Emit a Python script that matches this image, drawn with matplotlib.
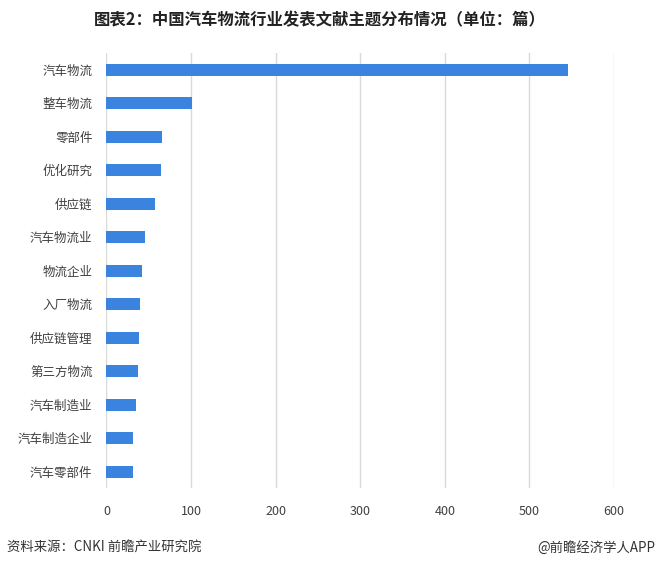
import numpy as np
from matplotlib import pyplot as plt

plt.rcParams['font.family'] = ['Noto Sans CJK SC', 'DejaVu Sans']

# topics, top to bottom as in the chart
topics = ["汽车物流", "整车物流", "零部件", "优化研究", "供应链", "汽车物流业", "物流企业",
          "入厂物流", "供应链管理", "第三方物流", "汽车制造业", "汽车制造企业", "汽车零部件"]
counts = [545, 101, 66, 64, 57, 45, 42, 40, 38, 37, 35, 31, 31]
xticks = [0, 100, 200, 300, 400, 500, 600]

fig = plt.figure(figsize=(6.57, 5.69), dpi=100)
ax = fig.add_axes([0.162, 0.1415, 0.7726, 0.7654])

ypos = np.arange(len(topics))
ax.barh(ypos, counts, height=0.36, color='#3a84e0', zorder=3)
ax.set_ylim(len(topics) - 0.5, -0.5)
ax.set_yticks(ypos)
ax.set_yticklabels(topics, fontsize=9, color='#404040')
ax.set_xlim(0, 600)
ax.set_xticks(xticks)
ax.set_xticklabels([str(v) for v in xticks], fontsize=9, color='#404040')
ax.tick_params(axis='both', length=0)
ax.tick_params(axis='x', pad=12)
ax.tick_params(axis='y', pad=10)
ax.grid(axis='x', color='#d9d9d9', linewidth=1, zorder=0)
for s in ax.spines.values():
    s.set_visible(False)

fig.text(0.487, 0.965, "图表2：中国汽车物流行业发表文献主题分布情况（单位：篇）",
         ha='center', va='center', fontsize=11.8, fontweight='bold', color='#222222')
fig.text(0.011, 0.038, "资料来源：CNKI 前瞻产业研究院", ha='left', va='center',
         fontsize=9.6, color='#333333')
fig.text(0.997, 0.038, "@前瞻经济学人APP", ha='right', va='center',
         fontsize=9.6, color='#333333')

plt.savefig('out.png', dpi=100)
